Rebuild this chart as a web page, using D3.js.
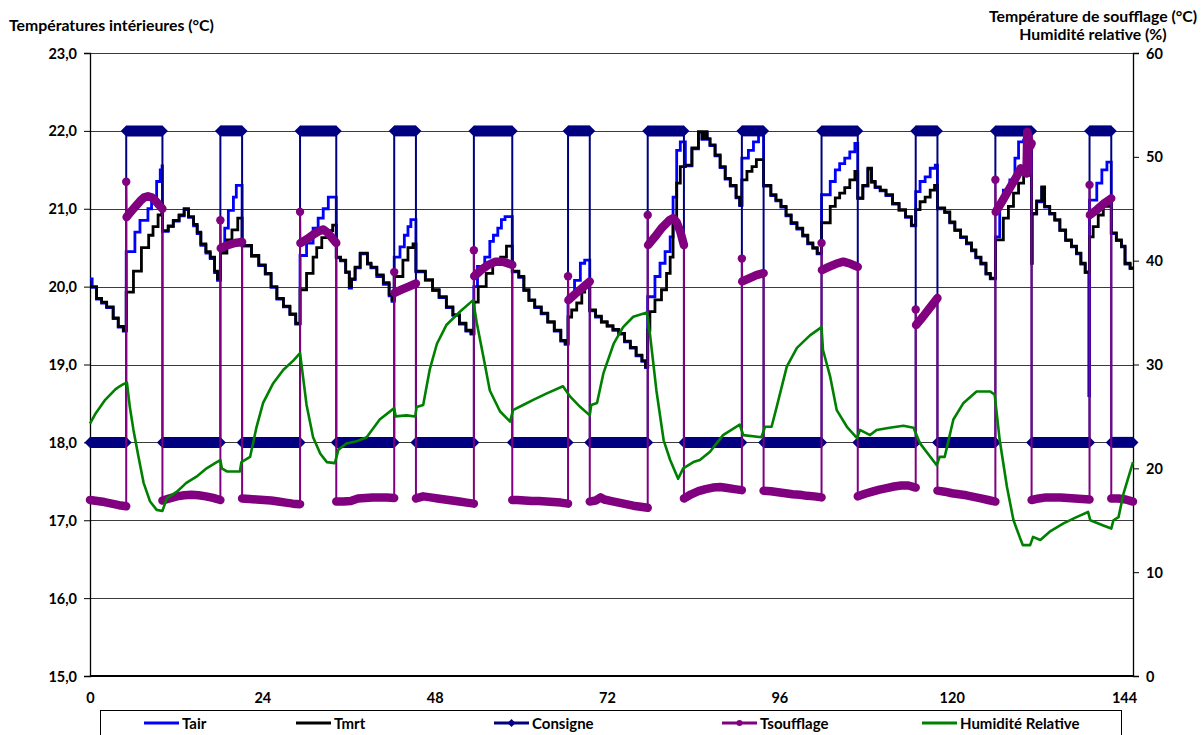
<!DOCTYPE html>
<html><head><meta charset="utf-8">
<script src="https://cdn.jsdelivr.net/npm/d3@7"></script>
<style>
body{margin:0;background:#fff;}
text{font-family:Lato,"Open Sans",sans-serif;font-weight:bold;fill:#000;}
</style></head>
<body><svg id="c" width="1202" height="735"></svg>
<script>
// ---------- DATA ----------
const xTicks = [0, 24, 48, 72, 96, 120, 144];
const leftTicks = [15, 16, 17, 18, 19, 20, 21, 22, 23];
const rightTicks = [0, 10, 20, 30, 40, 50, 60];
const seriesNames = ["Tair", "Tmrt", "Consigne", "Tsoufflage", "Humidité Relative"];

// [heure, valeur]
const consigne = [[0,18],[5,18],[5,22],[10,22],[10,18],[18,18],[18,22],[21,22],[21,18],[29,18],[29,22],[34,22],[34,18],[42,18],[42,22],[45,22],[45,18],[53,18],[53,22],[58.3,22],[58.3,18],[66,18],[66,22],[69,22],[69,18],[77,18],[77,22],[82,22],[82,18],[90,18],[90,22],[93,22],[93,18],[101,18],[101,22],[106,22],[106,18],[114,18],[114,22],[117,22],[117,18],[125,18],[125,22],[130,22],[130,18],[138,18],[138,22],[141,22],[141,18],[144,18]];

const tmrt = [[0,20.0],[0.9,19.85],[1.6,19.8],[2.3,19.74],[3.2,19.6],[3.9,19.49],[4.6,19.44],
[5,19.93],[6,20.2],[7.1,20.5],[8.1,20.66],[8.7,20.77],[9.4,20.92],[9.9,21.07],
[10,20.72],[10.8,20.78],[11.5,20.85],[12.3,20.92],[13,21.0],[13.6,20.9],[14.3,20.8],[14.8,20.7],[15.3,20.55],[16,20.45],[16.6,20.38],[17.2,20.2],[17.6,20.1],
[18,20.43],[18.9,20.6],[19.6,20.73],[20.4,20.88],
[21,20.53],[22.3,20.4],[23.3,20.28],[24.2,20.17],[25,20.0],[25.8,19.85],[26.7,19.75],[27.6,19.65],[28.4,19.53],
[29,19.96],[29.9,20.17],[30.8,20.38],[31.3,20.5],[32,20.63],[32.7,20.72],[33.5,20.79],
[34,20.38],[34.6,20.34],[35.3,20.19],[35.8,20.0],[36.1,20.1],[36.6,20.25],[37.3,20.43],[38.3,20.3],[38.8,20.25],[39.6,20.15],[40.5,20.05],[41.3,19.9],[41.7,19.83],
[42,20.13],[43.2,20.34],[43.9,20.5],[44.6,20.55],
[45,20.2],[46.3,20.09],[47.3,19.96],[48.2,19.87],[49.2,19.74],[50.1,19.64],[51,19.53],[51.9,19.44],[52.6,19.4],
[53,19.8],[53.6,20.0],[54.7,20.17],[55.6,20.3],[56.7,20.38],[57.5,20.52],
[58.3,20.2],[59.2,20.13],[59.9,19.96],[60.6,19.83],[61.4,19.74],[62.3,19.66],[63.2,19.55],[64.1,19.44],[65,19.31],[65.6,19.27],
[66,19.61],[66.5,19.7],[67.2,19.79],[67.9,19.93],[68.3,20.0],
[69,19.7],[69.8,19.62],[70.6,19.55],[71.4,19.5],[72.2,19.45],[73,19.4],[73.8,19.3],[74.6,19.22],[75.4,19.12],[76.2,19.05],[76.7,18.97],
[77,19.44],[77.3,19.68],[78,19.83],[78.9,19.96],[79.6,20.17],[80.1,20.38],[80.5,20.86],[81,21.33],[81.5,21.54],
[82.2,21.56],[83.1,21.78],[84,21.99],[84.5,21.9],[84.8,21.99],[85.2,21.9],[85.6,21.82],[86.3,21.69],[87,21.54],[87.7,21.39],[88.4,21.3],[89.2,21.15],[89.7,21.05],
[90,21.37],[90.7,21.48],[91.4,21.54],[92,21.63],
[93,21.3],[94,21.18],[94.7,21.11],[95.4,21.03],[96.1,20.92],[96.8,20.82],[97.6,20.75],[98.4,20.66],[99.1,20.56],[99.8,20.5],[100.4,20.43],
[101,20.82],[102.2,21.03],[102.9,21.14],[103.5,21.2],[104.2,21.27],[104.9,21.37],[105.6,21.48],
[106,21.14],[106.7,21.3],[107.4,21.52],[107.9,21.35],[108.4,21.28],[109.1,21.24],[109.9,21.18],[110.8,21.07],[111.7,20.99],[112.6,20.9],[113.4,20.79],
[114,20.99],[114.6,21.09],[115.3,21.15],[116,21.24],[116.6,21.3],
[117,21.01],[118,20.96],[118.7,20.83],[119.4,20.73],[120.2,20.64],[121,20.56],[121.7,20.47],[122.3,20.38],[123,20.3],[123.7,20.17],[124.3,20.11],
[125,20.6],[126.1,20.88],[126.8,21.03],[127.5,21.2],[128.2,21.33],[128.9,21.43],
[130,20.3],[130.1,20.94],[130.7,21.1],[131.4,21.28],[131.8,21.03],[132.5,20.94],[133.2,20.86],[133.9,20.73],[134.7,20.6],[135.5,20.52],[136.2,20.43],[136.8,20.3],[137.4,20.19],
[138,20.64],[138.5,20.77],[139.2,20.92],[139.9,21.03],[140.6,21.11],
[141,20.69],[141.7,20.6],[142.4,20.52],[142.9,20.3],[143.6,20.24],[144,20.24]];

const tair = [[0,20.1],[0.3,19.99],[0.9,19.84],[1.6,19.79],[2.3,19.73],[3.2,19.59],[3.9,19.48],[4.6,19.43],
[5,20.45],[6.2,20.7],[6.9,20.85],[8,21.0],[8.5,21.1],[9.2,21.35],[9.7,21.5],[9.95,21.55],
[10,20.71],[10.8,20.77],[11.5,20.84],[12.3,20.91],[13,20.99],[13.6,20.89],[14.3,20.78],[14.8,20.68],[15.3,20.53],[16,20.43],[16.6,20.36],[17.2,20.18],[17.6,20.08],
[18,20.45],[18.6,20.75],[19.1,20.98],[19.8,21.15],[20.2,21.3],
[21,20.52],[22.3,20.39],[23.3,20.27],[24.2,20.16],[25,19.99],[25.8,19.84],[26.7,19.74],[27.6,19.64],[28.4,19.52],
[29,20.4],[29.9,20.56],[30.8,20.75],[31.5,20.88],[32.2,21.0],[32.9,21.15],
[34,20.37],[34.6,20.33],[35.3,20.18],[35.8,19.98],[36.1,20.09],[36.6,20.24],[37.3,20.42],[38.3,20.29],[38.8,20.24],[39.6,20.13],[40.5,20.03],[41.3,19.88],[41.7,19.81],
[42,20.38],[42.8,20.51],[43.4,20.66],[43.9,20.77],[44.3,20.86],
[45,20.19],[46.3,20.08],[47.3,19.95],[48.2,19.86],[49.2,19.73],[50.1,19.63],[51,19.52],[51.9,19.43],[52.6,19.39],
[53,20.0],[53.5,20.26],[54.5,20.38],[55.2,20.58],[55.7,20.66],[56.3,20.75],[56.8,20.86],[57.3,20.9],
[58.3,20.19],[59.2,20.12],[59.9,19.95],[60.6,19.82],[61.4,19.73],[62.3,19.65],[63.2,19.54],[64.1,19.43],[65,19.3],[65.6,19.26],
[66,19.87],[66.9,20.08],[67.7,20.3],[68.3,20.34],
[69,19.69],[69.8,19.61],[70.6,19.54],[71.4,19.49],[72.2,19.44],[73,19.39],[73.8,19.29],[74.6,19.21],[75.4,19.11],[76.2,19.04],[76.7,18.96],
[77,19.87],[78,20.13],[78.7,20.3],[79.4,20.45],[80.1,20.64],[80.5,21.15],[81,21.75],[81.5,21.86],
[82.2,21.55],[83.1,21.77],[84,21.98],[84.5,21.89],[84.8,21.98],[85.2,21.89],[85.6,21.81],[86.3,21.68],[87,21.53],[87.7,21.38],[88.4,21.29],[89.2,21.14],[89.7,21.04],
[90,21.65],[90.9,21.75],[91.6,21.86],[92.3,21.95],
[93,21.29],[94,21.17],[94.7,21.1],[95.4,21.02],[96.1,20.91],[96.8,20.81],[97.6,20.74],[98.4,20.65],[99.1,20.55],[99.8,20.49],[100.4,20.42],
[101,21.18],[102.2,21.35],[102.9,21.5],[103.5,21.58],[104.2,21.65],[104.9,21.73],[105.6,21.84],
[106,21.13],[106.7,21.29],[107.4,21.51],[107.9,21.34],[108.4,21.27],[109.1,21.23],[109.9,21.17],[110.8,21.06],[111.7,20.98],[112.6,20.89],[113.4,20.78],
[114,21.22],[114.6,21.35],[115.3,21.41],[116,21.52],[116.7,21.56],
[117,21.0],[118,20.95],[118.7,20.82],[119.4,20.72],[120.2,20.63],[121,20.55],[121.7,20.46],[122.3,20.37],[123,20.29],[123.7,20.16],[124.3,20.1],
[125,20.64],[125.6,21.09],[126.1,21.24],[127,21.37],[127.7,21.65],[128.2,21.86],[128.9,21.88],
[130,20.93],[130.7,21.09],[131.4,21.27],[131.8,21.02],[132.5,20.93],[133.2,20.85],[133.9,20.72],[134.7,20.59],[135.5,20.51],[136.2,20.42],[136.8,20.29],[137.4,20.18],
[137.9,18.6],
[138,21.11],[139,21.33],[139.7,21.5],[140.4,21.6],
[141,20.68],[141.7,20.59],[142.4,20.51],[142.9,20.29],[143.6,20.23],[144,20.23]];

const tsoufflage = [[0,16.95],[1,16.85],[2,16.75],[3,16.6],[4,16.45],[5,16.35],
[5,47.6],[5.05,44.2],[5.5,44.6],[6,45.0],[6.5,45.4],[7,45.8],[7.5,46.1],[8,46.2],[8.5,46.1],[9,45.8],[9.5,45.4],[10,45.0],
[10,16.9],[11,17.1],[12,17.3],[13,17.4],[14,17.45],[15,17.4],[16,17.3],[17,17.15],[18,16.95],
[18,43.9],[18.05,41.2],[19,41.5],[20,41.7],[21,41.8],
[21,17.1],[22,17.05],[23,17.0],[24,16.95],[25,16.9],[26,16.8],[27,16.7],[28,16.6],[29,16.55],
[29,44.7],[29.05,41.7],[30,42.1],[30.8,42.5],[31.5,42.8],[32.2,43.0],[32.8,42.7],[33.4,42.2],[34,41.7],
[34,16.8],[35,16.8],[36,16.85],[37,17.1],[38,17.15],[39,17.2],[40,17.2],[41,17.2],[42,17.15],
[42,38.9],[42.05,36.9],[43,37.2],[44,37.5],[45,37.8],
[45,17.1],[46,17.3],[47,17.2],[48,17.1],[49,17.0],[50,16.9],[51,16.8],[52,16.7],[53,16.6],
[53,41.0],[53.05,38.5],[54,39.1],[55,39.6],[56,39.9],[57,39.9],[58.3,39.6],
[58.3,16.95],[59,16.95],[60,16.9],[61,16.85],[62,16.85],[63,16.8],[64,16.75],[65,16.7],[66,16.6],
[66,38.5],[66.05,36.2],[67,36.8],[68,37.4],[69,38.0],
[69,16.8],[69.8,16.9],[70.5,17.2],[71,17.0],[72,16.85],[73,16.7],[74,16.55],[75,16.4],[76,16.3],[77,16.2],
[77,44.4],[77.05,41.5],[78,42.3],[79,43.2],[80,43.9],[80.5,44.1],[81,43.7],[81.5,42.8],[82,41.5],
[82,17.1],[83,17.5],[84,17.8],[85,18.0],[86,18.15],[87,18.2],[88,18.1],[89,18.0],[90,17.9],
[90,40.2],[90.05,38.0],[91,38.3],[92,38.6],[93,38.8],
[93,17.85],[94,17.8],[95,17.7],[96,17.6],[97,17.5],[98,17.45],[99,17.35],[100,17.3],[101,17.2],
[101,41.7],[101.05,39.1],[102,39.4],[103,39.7],[104,39.9],[105,39.7],[106,39.4],
[106,17.3],[107,17.55],[108,17.75],[109,17.95],[110,18.1],[111,18.25],[112,18.35],[113,18.35],[114,18.15],
[114,35.3],[114.05,33.8],[115,34.6],[116,35.5],[117,36.4],
[117,17.85],[118,17.75],[119,17.6],[120,17.5],[121,17.4],[122,17.25],[123,17.1],[124,16.95],[125,16.8],
[125,47.8],[125.05,44.7],[126,45.8],[127,47.0],[128,48.2],[128.5,48.9],[129,48.6],[129.3,48.4],[129.4,52.4],[129.6,51.8],[129.8,51.0],[130,51.3],
[130,16.95],[131,17.1],[132,17.2],[133,17.2],[134,17.2],[135,17.15],[136,17.1],[137,17.05],[138,17.0],
[138,47.3],[138.05,44.4],[139,44.9],[140,45.5],[141,46.0],
[141,17.1],[142,17.1],[143,17.0],[144,16.8]];

const humidite = [[0,24.3],[0.7,25.2],[1.4,25.9],[2.1,26.6],[2.8,27.1],[3.5,27.6],[4.1,27.9],[4.6,28.1],[5.1,28.25],[5.5,25.9],[6,23.7],[6.7,21.1],[7.4,18.6],[8.3,16.8],[9.2,16.0],[10,15.9],[10.6,17.1],[12,17.75],[13.3,18.6],[14.7,19.2],[16.1,20.0],[17.5,20.6],[18,20.8],[18.2,20.0],[18.9,19.7],[20.7,19.7],[20.9,20.6],[22.1,21.1],[23,24.0],[23.9,26.3],[25.3,28.2],[26.7,29.5],[28.1,30.4],[29,31.1],[29.9,26.1],[30.8,23.0],[31.8,21.4],[32.7,20.6],[33.8,20.5],[34.3,21.8],[35.4,22.4],[36.8,22.6],[38.2,23.0],[40,24.7],[42,25.8],[42.2,25.0],[43.7,25.1],[44.9,25.0],[45.1,25.9],[46,26.1],[46.9,29.5],[47.9,32.0],[49.2,33.8],[51.1,35.1],[52.9,36.2],[53.4,34.0],[54.3,30.8],[55.2,27.5],[56.6,25.5],[58,24.5],[58.4,25.6],[59.8,26.1],[61.2,26.6],[63,27.2],[65.3,27.9],[66.3,26.9],[67.7,25.9],[69,25.1],[69.2,26.1],[70,26.3],[70.9,29.2],[72.3,32.0],[73.6,33.6],[75,34.6],[76.9,35.0],[77.3,33.0],[78.2,27.5],[79.2,22.7],[80.1,20.8],[81.2,19.0],[81.9,20.0],[83.3,20.6],[84.2,20.8],[85.6,21.6],[87.4,23.2],[89.7,24.2],[90.2,23.2],[92.7,23.0],[93.2,24.0],[94.1,24.0],[94.8,25.9],[96.2,29.8],[97.6,31.6],[99.4,32.8],[101,33.6],[101.2,31.4],[102.2,28.8],[103.1,25.6],[104.5,24.0],[105.9,22.9],[106.3,23.7],[107.7,23.2],[108.6,23.7],[110.4,23.9],[112.3,24.1],[113.7,23.9],[114.6,22.4],[116.9,20.3],[117.3,21.1],[118,21.1],[119.2,24.7],[120.6,26.3],[122.4,27.4],[124.3,27.4],[124.9,27.1],[125.6,22.7],[126.6,18.2],[127.5,15.0],[128.4,13.3],[128.8,12.6],[129.8,12.6],[130.2,13.4],[131.2,13.1],[132.5,13.9],[134.4,14.7],[136.2,15.3],[137.8,15.8],[138.1,15.0],[139.9,14.5],[141,14.2],[141.3,15.0],[142,15.3],[142.7,17.6],[144,20.6]];

// ---------- STYLES ----------
const colors = {tair:"#0000ff", tmrt:"#000000", consigne:"#000080", tsouf:"#800080", hum:"#008000"};

// ---------- SCALES ----------
const svg = d3.select("#c");
const L = 90, R = 1133, T = 53, B = 676;
const x = d3.scaleLinear().domain([0,144]).range([L,R]);
const xLab = d3.scaleLinear().domain([0,144]).range([L,1124]);
const yL = d3.scaleLinear().domain([15,23]).range([B,T]);
const yR = d3.scaleLinear().domain([0,60]).range([B,T]);

// gridlines
svg.append("g").selectAll("line").data(leftTicks.filter(d=>d>15)).join("line")
  .attr("x1",L).attr("x2",R).attr("y1",d=>Math.round(yL(d))+0.5).attr("y2",d=>Math.round(yL(d))+0.5)
  .attr("stroke","#3a3a3a").attr("stroke-width",1);

// left axis
const gL = svg.append("g").attr("transform",`translate(${L},0)`)
  .call(d3.axisLeft(yL).tickValues(leftTicks).tickSize(6).tickFormat(d=>d.toFixed(1).replace(".",",")));
gL.select(".domain").attr("stroke","#000").attr("stroke-width",1.3);
gL.selectAll(".tick line").attr("stroke","#000");
gL.selectAll("text").attr("font-size",14.5).attr("x",-13).attr("dy","0.35em");

// right axis
const gR = svg.append("g").attr("transform",`translate(${R},0)`)
  .call(d3.axisRight(yR).tickValues(rightTicks).tickSize(6).tickFormat(d3.format("d")));
gR.select(".domain").attr("stroke","#000").attr("stroke-width",1.3);
gR.selectAll(".tick line").attr("stroke","#000");
gR.selectAll("text").attr("font-size",14.5).attr("x",13).attr("dy","0.35em");

// bottom axis line + labels
svg.append("line").attr("x1",L).attr("x2",R).attr("y1",B).attr("y2",B).attr("stroke","#000").attr("stroke-width",2);
const gB = svg.append("g").attr("transform",`translate(0,${B})`)
  .call(d3.axisBottom(xLab).tickValues(xTicks).tickSize(0).tickFormat(d3.format("d")));
gB.select(".domain").remove();
gB.selectAll("text").attr("font-size",14.5).attr("y",17).attr("dy","0.71em");
svg.selectAll(".tick text").style("font-family","Lato, 'Open Sans', sans-serif").style("font-weight","bold");

// axis titles
svg.append("text").attr("x",9).attr("y",31).attr("font-size",15.8).text("Températures intérieures (°C)");
svg.append("text").attr("x",1093).attr("y",22).attr("font-size",15.8).attr("text-anchor","middle").text("Température de soufflage (°C)");
svg.append("text").attr("x",1093).attr("y",40).attr("font-size",15.8).attr("text-anchor","middle").text("Humidité relative (%)");

// ---------- SERIES ----------
const plot = svg.append("g");
const lineStepL = d3.line().x(d=>x(d[0])).y(d=>yL(d[1])).curve(d3.curveStepAfter);
const lineL = d3.line().x(d=>x(d[0])).y(d=>yL(d[1]));
const lineR = d3.line().x(d=>x(d[0])).y(d=>yR(d[1]));

// split a series into runs separated by vertical jumps
function runs(data){
  const out=[]; let cur=[data[0]];
  for(let i=1;i<data.length;i++){
    if(data[i][0]-data[i-1][0] < 0.06){ out.push(cur); cur=[data[i]]; }
    else cur.push(data[i]);
  }
  out.push(cur); return out;
}

// Tair
plot.append("path").attr("d",lineStepL(tair)).attr("fill","none").attr("stroke",colors.tair).attr("stroke-width",2.8);
// Tmrt
plot.append("path").attr("d",lineStepL(tmrt)).attr("fill","none").attr("stroke",colors.tmrt).attr("stroke-width",2.8);

// Consigne
plot.append("path").attr("d",lineL(consigne)).attr("fill","none").attr("stroke",colors.consigne).attr("stroke-width",2);
const cRuns = runs(consigne);
const diamond = (cx,cy,w,h)=>`M${cx-w},${cy}L${cx},${cy-h}L${cx+w},${cy}L${cx},${cy+h}Z`;
cRuns.forEach(r=>{
  if(r.length>1){
    plot.append("path").attr("d",lineL(r)).attr("fill","none").attr("stroke",colors.consigne).attr("stroke-width",11);
  }
  [r[0], r[r.length-1]].forEach(p=>{
    plot.append("path").attr("d",diamond(x(p[0]),yL(p[1]),5.5,5.5)).attr("fill",colors.consigne);
  });
});

// Tsoufflage
plot.append("path").attr("d",lineR(tsoufflage)).attr("fill","none").attr("stroke",colors.tsouf).attr("stroke-width",2);
runs(tsoufflage).forEach(r=>{
  if(r.length>1){
    plot.append("path").attr("d",lineR(r)).attr("fill","none").attr("stroke",colors.tsouf)
      .attr("stroke-width",8.5).attr("stroke-linecap","round").attr("stroke-linejoin","round");
  } else {
    plot.append("circle").attr("cx",x(r[0][0])).attr("cy",yR(r[0][1])).attr("r",4.2).attr("fill",colors.tsouf);
  }
});

// Humidité
plot.append("path").attr("d",lineR(humidite)).attr("fill","none").attr("stroke",colors.hum).attr("stroke-width",2.6).attr("stroke-linejoin","round");

// ---------- LEGEND ----------
const lg = svg.append("g");
lg.append("rect").attr("x",100.5).attr("y",710.5).attr("width",1021).attr("height",30).attr("fill","#fff").attr("stroke","#000");
const legX = [144, 296, 494, 722, 922];
const legC = [colors.tair, colors.tmrt, colors.consigne, colors.tsouf, colors.hum];
seriesNames.forEach((n,i)=>{
  const g = lg.append("g").attr("transform",`translate(${legX[i]},723)`);
  g.append("line").attr("x1",0).attr("x2",35).attr("stroke",legC[i]).attr("stroke-width",3);
  if(i===2) g.append("path").attr("d",diamond(17.5,0,4,4)).attr("fill",legC[i]);
  if(i===3) g.append("circle").attr("cx",17.5).attr("r",3).attr("fill",legC[i]);
  g.append("text").attr("x",38).attr("y",5.5).attr("font-size",15).text(n);
});
</script></body></html>
